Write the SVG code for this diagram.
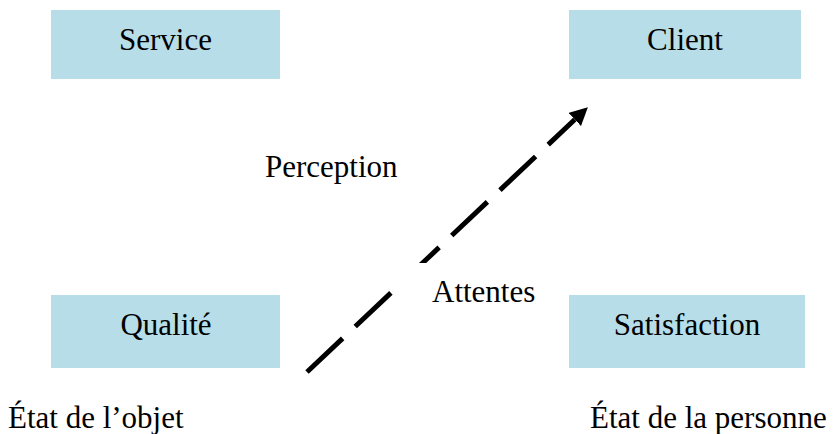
<svg xmlns="http://www.w3.org/2000/svg" width="835" height="434" viewBox="0 0 835 434">
<style>
.box{fill:#B7DDE8;stroke:none}
.t{font-family:'Times New Roman','Liberation Serif','DejaVu Serif',serif;font-size:31px;fill:#000}
.c{text-anchor:middle}
.conn{stroke:#000;stroke-width:5;fill:none;stroke-dasharray:49 17.3;stroke-linecap:butt}
</style>
<defs>
<marker id="ah" markerUnits="userSpaceOnUse" markerWidth="18" markerHeight="18" refX="0" refY="9" orient="auto">
<path d="M0,0 L18,9 L0,18 Z" fill="#000"/>
</marker>
</defs>
<rect width="835" height="434" fill="#fff"/>
<g id="service"><rect class="box" x="51" y="10" width="229" height="69"/><text class="t c" x="165.5" y="50">Service</text></g>
<g id="client"><rect class="box" x="569" y="10" width="232" height="69"/><text class="t c" x="685" y="50">Client</text></g>
<g id="qualite"><rect class="box" x="51" y="295" width="229" height="73"/><text class="t c" x="166" y="335">Qualité</text></g>
<g id="satisfaction"><rect class="box" x="569" y="295" width="236" height="73"/><text class="t c" x="687" y="335">Satisfaction</text></g>
<g id="connectors">
<line class="conn" x1="307" y1="372" x2="574.8" y2="119.5" marker-end="url(#ah)"/>
</g>
<g id="labels">
<text class="t" x="265" y="177">Perception</text>
<rect x="396" y="263" width="150" height="50" fill="#fff"/>
<text class="t" x="432" y="302">Attentes</text>
<text class="t" x="8" y="428">État de l’objet</text>
<text class="t" x="590" y="428">État de la personne</text>
</g>
</svg>
